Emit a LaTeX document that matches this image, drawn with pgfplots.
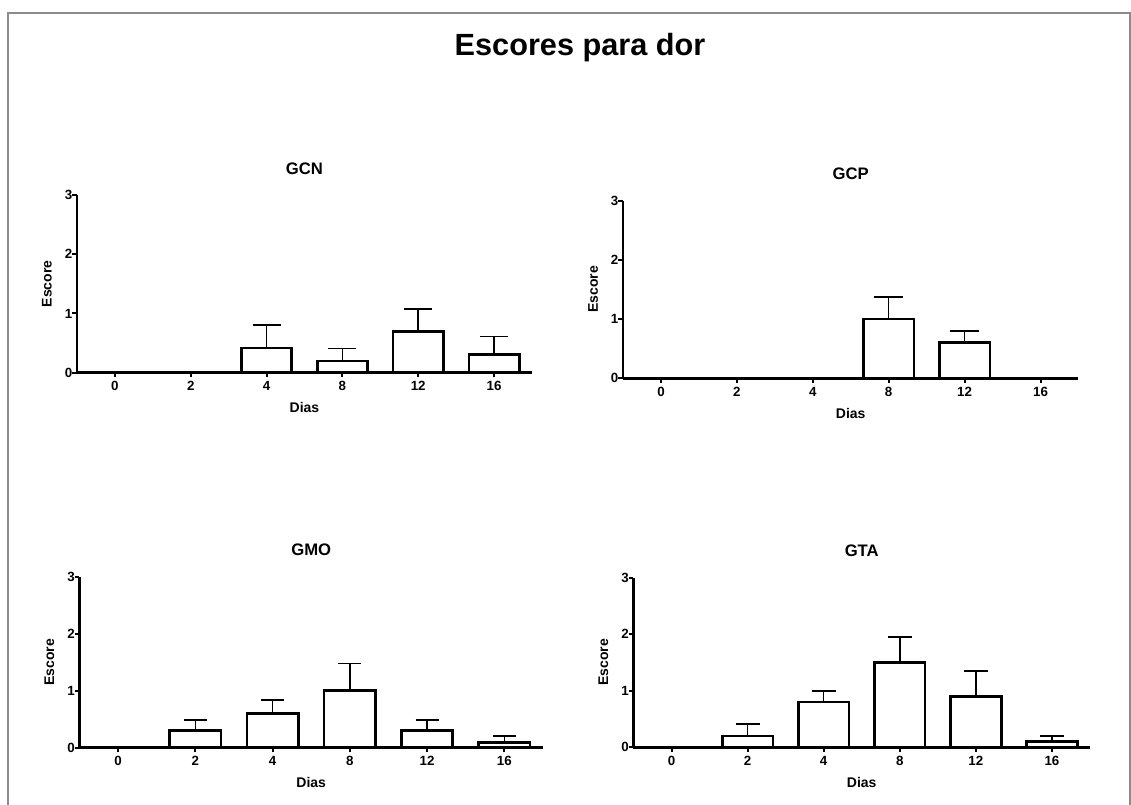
\documentclass[border=0pt]{standalone}
\usepackage{fontspec}
\setmainfont{Liberation Sans}
\usepackage{pgfplots}
\pgfplotsset{compat=1.18}

\newcommand{\tickfont}{\fontsize{10}{11}\selectfont\bfseries}
\pgfplotsset{
 panel/.style={
  scale only axis,
  axis x line=bottom, axis y line=left,
  x axis line style={-}, y axis line style={-},
  axis line style={line width=2pt, black},
  xmin=-0.5, xmax=5.5, ymin=0, ymax=3,
  xtick={0,1,2,3,4,5}, xticklabels={0,2,4,8,12,16},
  ytick={0,1,2,3}, yticklabels={0,1,2,3},
  tick align=outside, major tick length=3.5pt,
  tick style={line width=1.5pt, black},
  xticklabel style={font=\tickfont, yshift=0.5pt},
  yticklabel style={font=\tickfont, xshift=3.5pt},
  xlabel={Dias}, ylabel={Escore},
  every axis x label/.style={at={(axis description cs:0.5,0)}, yshift=-26.25pt, anchor=center, font=\fontsize{10.5}{12}\selectfont\bfseries},
  every axis y label/.style={at={(axis description cs:0,0.5)}, xshift=-22.5pt, rotate=90, anchor=center, font=\fontsize{10.5}{12}\selectfont\bfseries},
  every axis title/.style={at={(axis description cs:0.5,1)}, yshift=20pt, anchor=center, font=\fontsize{12.5}{14}\selectfont\bfseries},
  ybar, bar width=0.665,
  clip=false,
 },
 bars/.style={draw=black, fill=white, line width=2pt,
   error bars/.cd, y dir=plus, y explicit, error mark=|,
   error bar style={line width=1.2pt, black},
   error mark options={line width=1.2pt, black, mark size=#1}},
}

\begin{document}
\begin{tikzpicture}
\useasboundingbox (0,0) rectangle (848.25pt,603.75pt);
\draw[gray!90, line width=1.5pt] (6pt,0) -- (6pt,594pt) -- (847.5pt,594pt) -- (847.5pt,0);
\node[font=\fontsize{23}{26}\selectfont\bfseries] at (435pt,567.75pt) {Escores para dor};

% GCN
\begin{axis}[panel, title={GCN}, at={(57.75pt,324.2pt)}, anchor=south west, width=341.25pt, height=133.3pt]
\addplot[bars=10.5pt] coordinates {(0,0) +- (0,0) (1,0) +- (0,0) (2,0.42) +- (0,0.39) (3,0.2) +- (0,0.21) (4,0.70) +- (0,0.38) (5,0.31) +- (0,0.30)};
\end{axis}

% GCP
\begin{axis}[panel, title={GCP}, at={(467.25pt,320.0pt)}, anchor=south west, width=341.6pt, height=133.2pt]
\addplot[bars=10.9pt] coordinates {(0,0) +- (0,0) (1,0) +- (0,0) (2,0) +- (0,0) (3,1.0) +- (0,0.37) (4,0.61) +- (0,0.19) (5,0) +- (0,0)};
\end{axis}

% GMO
\begin{axis}[panel, title={GMO}, at={(59.6pt,43.0pt)}, anchor=south west, width=347.6pt, height=128.25pt]
\addplot[bars=8.6pt] coordinates {(0,0) +- (0,0) (1,0.3) +- (0,0.19) (2,0.6) +- (0,0.24) (3,1.0) +- (0,0.48) (4,0.3) +- (0,0.19) (5,0.09) +- (0,0.11)};
\end{axis}

% GTA
\begin{axis}[panel, title={GTA}, at={(475.1pt,43.3pt)}, anchor=south west, width=342.4pt, height=127.2pt]
\addplot[bars=9pt] coordinates {(0,0) +- (0,0) (1,0.2) +- (0,0.21) (2,0.8) +- (0,0.2) (3,1.5) +- (0,0.45) (4,0.9) +- (0,0.45) (5,0.1) +- (0,0.1)};
\end{axis}
\end{tikzpicture}
\end{document}
